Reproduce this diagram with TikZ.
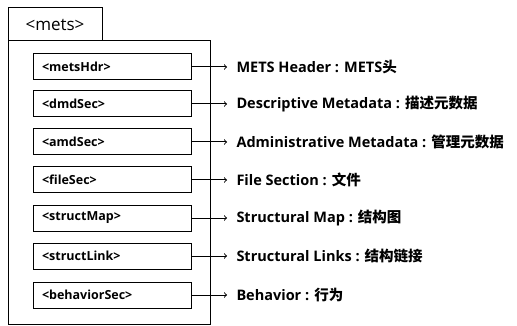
\documentclass[tikz,border=0pt]{standalone}
\usepackage{fontspec}
\setmainfont{Open Sans}
\newfontfamily\cjk{Noto Sans CJK SC}
\usetikzlibrary{positioning}

\begin{document}
\begin{tikzpicture}[x=1pt,y=-1pt,line width=1pt,
    secbox/.style={draw,minimum width=158pt,minimum height=26pt,inner xsep=9pt,
      text width=140pt,align=left,font=\fontsize{12.5}{14}\selectfont\bfseries},
    desc/.style={anchor=west,inner xsep=9pt,inner ysep=4pt,font=\fontsize{14.5}{16}\selectfont\bfseries}]
  \useasboundingbox (0,0) rectangle (517,326);
  % outer element with its tab
  \draw (8,8) rectangle (102,41);
  \node (mets) at (55,25) {\fontsize{17}{19}\selectfont <mets>};
  \draw (8,41) rectangle (210,324);

  % the child sections
  \node[secbox] (hdr) at (112,67) {<metsHdr>};
  \node[secbox] (dmd) at (112,104) {<dmdSec>};
  \node[secbox] (amd) at (112,142) {<amdSec>};
  \node[secbox] (file) at (112,180) {<fileSec>};
  \node[secbox] (smap) at (112,218) {<structMap>};
  \node[secbox] (slink) at (112,256) {<structLink>};
  \node[secbox] (behav) at (112,295) {<behaviorSec>};

  % what each one holds
  \node[desc] (hdrT) at (227,67) {METS Header : METS{\cjk 头}};
  \node[desc] (dmdT) at (227,104) {Descriptive Metadata : {\cjk 描述元数据}};
  \node[desc] (amdT) at (227,142) {Administrative Metadata : {\cjk 管理元数据}};
  \node[desc] (fileT) at (227,180) {File Section : {\cjk 文件}};
  \node[desc] (smapT) at (227,218) {Structural Map : {\cjk 结构图}};
  \node[desc] (slinkT) at (227,256) {Structural Links : {\cjk 结构链接}};
  \node[desc] (behavT) at (227,295) {Behavior : {\cjk 行为}};

  \draw[->] (hdr) -- (hdrT.west);
  \draw[->] (dmd) -- (dmdT.west);
  \draw[->] (amd) -- (amdT.west);
  \draw[->] (file) -- (fileT.west);
  \draw[->] (smap) -- (smapT.west);
  \draw[->] (slink) -- (slinkT.west);
  \draw[->] (behav) -- (behavT.west);
\end{tikzpicture}
\end{document}
